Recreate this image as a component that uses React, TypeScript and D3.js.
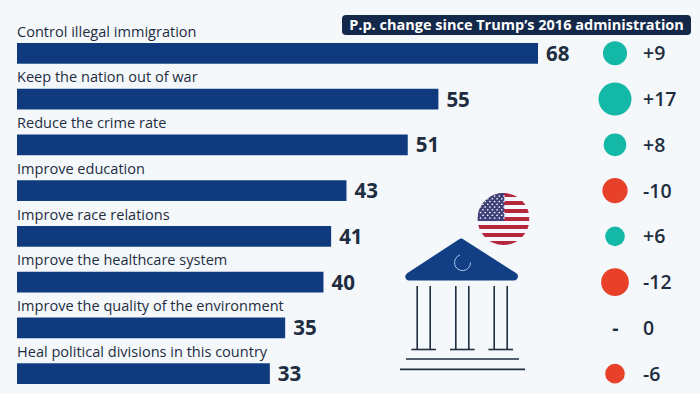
import React from "react";
import * as d3 from "d3";

const categories = [
  "Control illegal immigration",
  "Keep the nation out of war",
  "Reduce the crime rate",
  "Improve education",
  "Improve race relations",
  "Improve the healthcare system",
  "Improve the quality of the environment",
  "Heal political divisions in this country",
];
const values = [68, 55, 51, 43, 41, 40, 35, 33];
const changes = [9, 17, 8, -10, 6, -12, 0, -6];
const title = "P.p. change since Trump’s 2016 administration";

const W = 700, H = 394;
const FONT = "'Open Sans', sans-serif";
const NAVY = "#0f3a7d";
const DARK = "#1e2d3f";
const UP = "#14b8a6";
const DOWN = "#e8412a";

const x = d3.scaleLinear().domain([0, 68]).range([17, 538]);
const y = d3.scaleBand<number>().domain(d3.range(8)).range([43, 384]).paddingInner(0.547);
const r = d3.scaleSqrt().domain([0, 17]).range([0, 16.5]);

const stripes = d3.range(13);
const starRows = d3.range(9);

function Flag({ cx, cy, R }: { cx: number; cy: number; R: number }) {
  const sy = d3.scaleBand<number>().domain(stripes).range([cy - R, cy + R]);
  return (
    <g>
      <clipPath id="flagClip"><circle cx={cx} cy={cy} r={R} /></clipPath>
      <g clipPath="url(#flagClip)">
        {stripes.map((i) => (
          <rect key={i} x={cx - R} y={sy(i)} width={2 * R} height={sy.bandwidth() + 0.2} fill={i % 2 ? "#f4f6f9" : "#b5263f"} />
        ))}
        <rect x={cx - R} y={cy - R} width={R * 1.03} height={sy.bandwidth() * 7} fill="#3d3f78" />
        {starRows.map((row) =>
          d3.range(row % 2 ? 5 : 6).map((c) => (
            <circle key={row + "-" + c} cx={cx - R + 3 + (row % 2 ? 2.5 : 0) + c * 4.7} cy={cy - R + 3 + row * 2.75} r={0.85} fill="#fff" />
          ))
        )}
      </g>
    </g>
  );
}

function Building() {
  const colGroups = [423.7, 462.3, 500.7];
  return (
    <g>
      <path d="M462 238.5 L516 273 Q519.5 275.5 517 279 Q516 280.5 513.5 280.5 L409 280.5 Q406.5 280.5 405.5 278 Q404.5 275 407.5 273 L458 240 Q460 238 462 238.5 Z" fill="#123f84" />
      <path d="M460 255 A8 8 0 1 0 470.5 262.5" fill="none" stroke="#a9c8ec" strokeWidth={1} />
      {colGroups.map((c) => (
        <g key={c} stroke={DARK} fill="none">
          <line x1={c - 6.5} x2={c - 6.5} y1={286} y2={349} strokeWidth={1.6} />
          <line x1={c + 6.5} x2={c + 6.5} y1={286} y2={349} strokeWidth={1.6} />
          <line x1={c - 12.3} x2={c + 12.3} y1={349.5} y2={349.5} strokeWidth={1.6} />
        </g>
      ))}
      <line x1={406} x2={519} y1={359} y2={359} stroke={DARK} strokeWidth={1.6} />
      <line x1={400} x2={525} y1={369.4} y2={369.4} stroke={DARK} strokeWidth={1.6} />
    </g>
  );
}

export default function App() {
  return (
    <svg width={W} height={H} viewBox={`0 0 ${W} ${H}`} style={{ position: "absolute", left: 0, top: 0, background: "#f4f8fb", fontFamily: FONT }}>
      <rect x={342} y={15} width={349} height={20} rx={4} fill="#14294a" />
      <text x={516.5} y={30} textAnchor="middle" fontSize={14.5} fontWeight={700} fill="#fff">{title}</text>
      {categories.map((c, i) => {
        const by = y(i)!;
        const bh = y.bandwidth();
        const cy = by + bh / 2;
        const d = changes[i];
        return (
          <g key={c}>
            <text x={17} y={by - 6.5} fontSize={14.55} fill={DARK}>{c}</text>
            <rect x={x(0)} y={by} width={x(values[i]) - x(0)} height={bh} fill={NAVY} />
            <text x={x(values[i]) + 8} y={cy + 7.5} fontSize={20.5} fontWeight={700} fill={DARK}>{values[i]}</text>
            {d !== 0 ? (
              <circle cx={615} cy={cy} r={r(Math.abs(d))} fill={d > 0 ? UP : DOWN} />
            ) : (
              <text x={615.5} y={cy + 7} textAnchor="middle" fontSize={19.5} fontWeight={700} fill={DARK}>-</text>
            )}
            <text x={643} y={cy + 7} fontSize={19.5} fontWeight={600} fill={DARK}>
              {d > 0 ? `+${d}` : d < 0 ? `-${Math.abs(d)}` : "0"}
            </text>
          </g>
        );
      })}
      <Building />
      <Flag cx={503.5} cy={219} R={26} />
    </svg>
  );
}
